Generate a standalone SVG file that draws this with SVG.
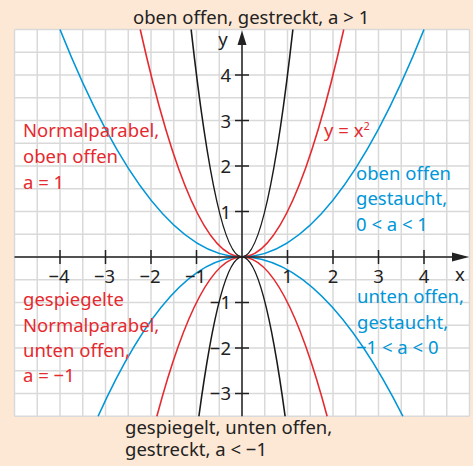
<svg xmlns="http://www.w3.org/2000/svg" width="473" height="466" viewBox="0 0 473 466">
<style>
text{font-family:"Noto Sans","Open Sans","DejaVu Sans",sans-serif;font-size:18.5px}
.red{fill:#e52a2f}
.blue{fill:#0096d8}
.blk{fill:#222}
.num{font-size:18px;fill:#222}
.grid line{stroke:#d9d9d9;stroke-width:1.5}
.cv{fill:none;stroke-width:1.6}
.cr{stroke:#e52a2f}
.cb{stroke:#0096d8}
.ck{stroke:#1a1a1a}
.ax{stroke:#222;stroke-width:1.5}
</style>
<rect width="473" height="466" fill="#fde8d6"/>
<g id="grid" class="grid">
<rect x="14.5" y="29.5" width="455" height="386.75" fill="#fff"/>
<line x1="14.5" y1="29.5" x2="14.5" y2="416.25"/><line x1="37.25" y1="29.5" x2="37.25" y2="416.25"/><line x1="60" y1="29.5" x2="60" y2="416.25"/><line x1="82.75" y1="29.5" x2="82.75" y2="416.25"/><line x1="105.5" y1="29.5" x2="105.5" y2="416.25"/><line x1="128.25" y1="29.5" x2="128.25" y2="416.25"/><line x1="151" y1="29.5" x2="151" y2="416.25"/><line x1="173.75" y1="29.5" x2="173.75" y2="416.25"/><line x1="196.5" y1="29.5" x2="196.5" y2="416.25"/><line x1="219.25" y1="29.5" x2="219.25" y2="416.25"/><line x1="242" y1="29.5" x2="242" y2="416.25"/><line x1="264.75" y1="29.5" x2="264.75" y2="416.25"/><line x1="287.5" y1="29.5" x2="287.5" y2="416.25"/><line x1="310.25" y1="29.5" x2="310.25" y2="416.25"/><line x1="333" y1="29.5" x2="333" y2="416.25"/><line x1="355.75" y1="29.5" x2="355.75" y2="416.25"/><line x1="378.5" y1="29.5" x2="378.5" y2="416.25"/><line x1="401.25" y1="29.5" x2="401.25" y2="416.25"/><line x1="424" y1="29.5" x2="424" y2="416.25"/><line x1="446.75" y1="29.5" x2="446.75" y2="416.25"/><line x1="469.5" y1="29.5" x2="469.5" y2="416.25"/>
<line x1="14.5" y1="29.5" x2="469.5" y2="29.5"/><line x1="14.5" y1="52.25" x2="469.5" y2="52.25"/><line x1="14.5" y1="75" x2="469.5" y2="75"/><line x1="14.5" y1="97.75" x2="469.5" y2="97.75"/><line x1="14.5" y1="120.5" x2="469.5" y2="120.5"/><line x1="14.5" y1="143.25" x2="469.5" y2="143.25"/><line x1="14.5" y1="166" x2="469.5" y2="166"/><line x1="14.5" y1="188.75" x2="469.5" y2="188.75"/><line x1="14.5" y1="211.5" x2="469.5" y2="211.5"/><line x1="14.5" y1="234.25" x2="469.5" y2="234.25"/><line x1="14.5" y1="257" x2="469.5" y2="257"/><line x1="14.5" y1="279.75" x2="469.5" y2="279.75"/><line x1="14.5" y1="302.5" x2="469.5" y2="302.5"/><line x1="14.5" y1="325.25" x2="469.5" y2="325.25"/><line x1="14.5" y1="348" x2="469.5" y2="348"/><line x1="14.5" y1="370.75" x2="469.5" y2="370.75"/><line x1="14.5" y1="393.5" x2="469.5" y2="393.5"/><line x1="14.5" y1="416.25" x2="469.5" y2="416.25"/>
</g>
<g id="curves">
<path class="cv cb" d="M60,29.5 Q242,484.5 424,29.5"/>
<path class="cv cr" d="M140.26,29.5 Q242,484.5 343.74,29.5"/>
<path class="cv ck" d="M191.13,29.5 Q242,484.5 292.87,29.5"/>
<path class="cv cb" d="M98.1,416.25 Q170.05,257 242,257 Q322.45,257 402.9,416.25"/>
<path class="cv cr" d="M156.88,416.25 Q242,97.75 327.12,416.25"/>
<path class="cv ck" d="M198.9,416.25 Q242,97.75 285.1,416.25"/>
</g>
<g id="axes">
<line class="ax" x1="14.5" y1="257" x2="456" y2="257"/>
<polygon points="469,257 452,252.5 452,261.5" fill="#222"/>
<line class="ax" x1="242" y1="416.25" x2="242" y2="44"/>
<polygon points="242,30.5 237.5,45 246.5,45" fill="#222"/>
<g class="ax">
<line x1="60" y1="250" x2="60" y2="264"/><line x1="105.5" y1="250" x2="105.5" y2="264"/><line x1="151" y1="250" x2="151" y2="264"/><line x1="196.5" y1="250" x2="196.5" y2="264"/>
<line x1="287.5" y1="250" x2="287.5" y2="264"/><line x1="333" y1="250" x2="333" y2="264"/><line x1="378.5" y1="250" x2="378.5" y2="264"/><line x1="424" y1="250" x2="424" y2="264"/>
<line x1="235" y1="75" x2="249" y2="75"/><line x1="235" y1="120.5" x2="249" y2="120.5"/><line x1="235" y1="166" x2="249" y2="166"/><line x1="235" y1="211.5" x2="249" y2="211.5"/>
<line x1="235" y1="302.5" x2="249" y2="302.5"/><line x1="235" y1="348" x2="249" y2="348"/><line x1="235" y1="393.5" x2="249" y2="393.5"/>
</g>
<g class="num" text-anchor="middle">
<text x="59" y="283">−4</text><text x="104.5" y="283">−3</text><text x="150" y="283">−2</text><text x="195.5" y="283">−1</text>
<text x="287.5" y="283">1</text><text x="333" y="283">2</text><text x="378.5" y="283">3</text><text x="424" y="283">4</text>
<text x="460" y="281">x</text>
<text x="223" y="46">y</text>
</g>
<g class="num" text-anchor="end">
<text x="231" y="82">4</text><text x="231" y="127.5">3</text><text x="231" y="173">2</text><text x="231" y="218.5">1</text>
<text x="231" y="309">−1</text><text x="231" y="354.5">−2</text><text x="231" y="400">−3</text>
</g>
</g>
<g id="label-top"><text class="blk" x="133" y="24">oben offen, gestreckt, a &gt; 1</text></g>
<g id="label-normal"><text class="red" x="23" y="137">Normalparabel,</text><text class="red" x="23" y="163">oben offen</text><text class="red" x="23" y="188.5">a = 1</text></g>
<g id="label-yx2"><text class="red" x="324" y="137">y = x<tspan font-size="11px" dy="-7">2</tspan></text></g>
<g id="label-gestaucht-oben"><text class="blue" x="356" y="180">oben offen</text><text class="blue" x="356" y="205">gestaucht,</text><text class="blue" x="356" y="230.5">0 &lt; a &lt; 1</text></g>
<g id="label-gespiegelt"><text class="red" x="23" y="306">gespiegelte</text><text class="red" x="23" y="331.5">Normalparabel,</text><text class="red" x="23" y="356.5">unten offen,</text><text class="red" x="23" y="382">a = −1</text></g>
<g id="label-gestaucht-unten"><text class="blue" x="357" y="303">unten offen,</text><text class="blue" x="357" y="328.5">gestaucht,</text><text class="blue" x="356" y="354">−1 &lt; a &lt; 0</text></g>
<g id="label-bottom"><text class="blk" x="125" y="434">gespiegelt, unten offen,</text><text class="blk" x="125" y="456">gestreckt, a &lt; −1</text></g>
</svg>
